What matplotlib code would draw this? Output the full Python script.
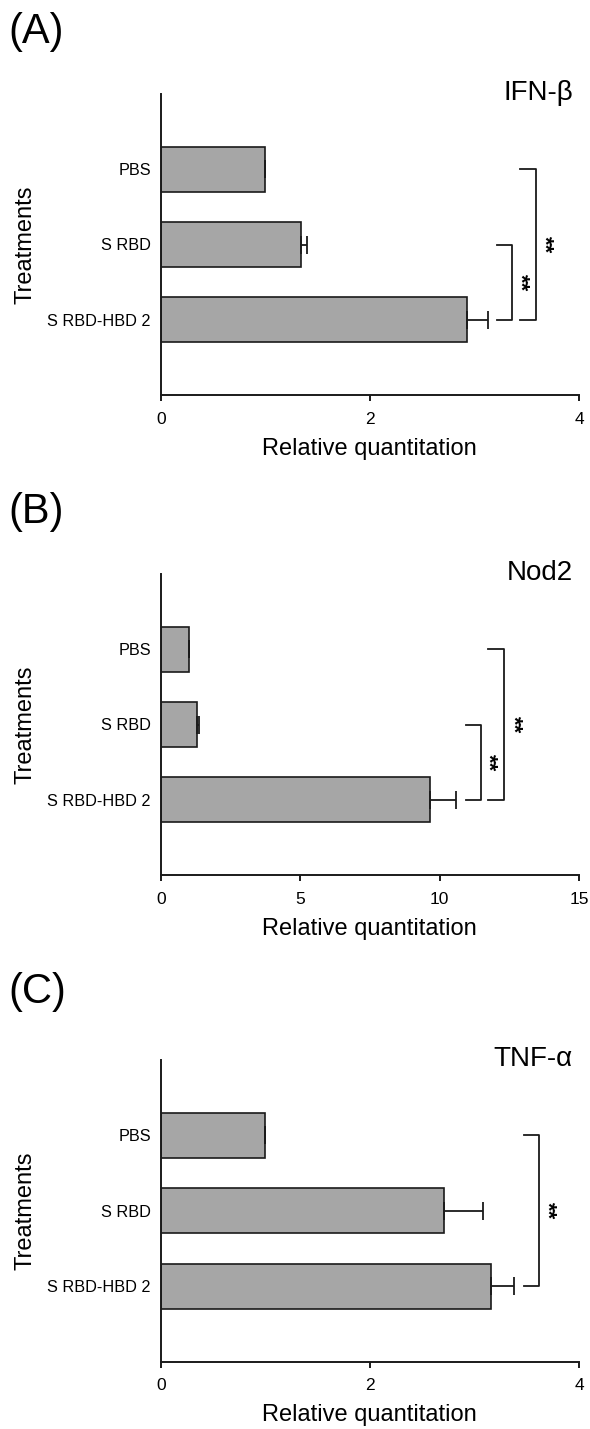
import matplotlib
matplotlib.use("Agg")
import matplotlib.pyplot as plt
from matplotlib.transforms import offset_copy

plt.rcParams['font.family'] = ['Liberation Sans', 'DejaVu Sans']

categories = ["PBS", "S RBD", "S RBD-HBD 2"]

# Panel A: IFN-beta
a_values = [1.00, 1.34, 2.93]
a_errors = [0.0, 0.06, 0.20]
# Panel B: Nod2
b_values = [1.00, 1.31, 9.64]
b_errors = [0.0, 0.07, 0.96]
# Panel C: TNF-alpha
c_values = [1.00, 2.71, 3.16]
c_errors = [0.0, 0.37, 0.22]

a_ticks = [0, 2, 4]
b_ticks = [0, 5, 10, 15]
c_ticks = [0, 2, 4]

titles = ["IFN-\u03b2", "Nod2", "TNF-\u03b1"]
panel_labels = ["(A)", "(B)", "(C)"]

# brackets: (cat_i, cat_j, x_start, x_vert, x_star)
a_brackets = [(1, 2, 3.22, 3.36, 3.49), (0, 2, 3.44, 3.59, 3.72)]
b_brackets = [(1, 2, 10.93, 11.48, 11.94), (0, 2, 11.75, 12.32, 12.83)]
c_brackets = [(0, 2, 3.47, 3.62, 3.75)]

panels = [
    (a_values, a_errors, a_ticks, a_brackets),
    (b_values, b_errors, b_ticks, b_brackets),
    (c_values, c_errors, c_ticks, c_brackets),
]

fig = plt.figure(figsize=(5.9, 14.29), dpi=100)

W, H = 590.0, 1429.0
ax_left, ax_right = 160.7, 579.0
ax_tops = [94.0, 574.0, 1060.0]
ax_bottoms = [395.0, 875.0, 1361.5]
label_ys = [32.0, 512.0, 992.0]

bar_color = "#a6a6a6"
edge_color = "#1a1a1a"

for k, (vals, errs, ticks, brackets) in enumerate(panels):
    top, bot = ax_tops[k], ax_bottoms[k]
    ax = fig.add_axes([ax_left / W, 1 - bot / H, (ax_right - ax_left) / W, (bot - top) / H])
    ypos = [2 - i for i in range(len(categories))]
    ax.barh(ypos, vals, height=0.6, color=bar_color, edgecolor=edge_color, linewidth=1.2, zorder=2)
    ax.errorbar(vals, ypos, xerr=[[0] * len(errs), errs], fmt='none', ecolor=edge_color,
                elinewidth=1.3, capsize=6.5, capthick=1.3, zorder=3)
    ax.set_xlim(ticks[0], ticks[-1])
    ax.set_ylim(-1, 3)
    ax.set_xticks(ticks)
    ax.set_xticklabels([str(t) for t in ticks], fontsize=12.5)
    ax.set_yticks(ypos)
    ax.set_yticklabels(categories, fontsize=11.7)
    ax.tick_params(axis='y', length=0, pad=7)
    ax.tick_params(axis='x', length=4.5, width=1.4, direction='out', pad=7.5, color=edge_color)
    for s in ['top', 'right']:
        ax.spines[s].set_visible(False)
    for s in ['left', 'bottom']:
        ax.spines[s].set_linewidth(1.4)
        ax.spines[s].set_color(edge_color)
    ax.set_xlabel("Relative quantitation", fontsize=17, labelpad=8)
    ax.set_ylabel("Treatments", fontsize=17, labelpad=8)

    star_tr = offset_copy(ax.transData, fig=fig, x=-6, y=0, units='dots')
    for (i, j, x0, x1, xs) in brackets:
        y_i, y_j = ypos[i], ypos[j]
        ax.plot([x0, x1, x1, x0], [y_i, y_i, y_j, y_j], color=edge_color, lw=1.3,
                clip_on=False, zorder=3)
        ax.text(xs, (y_i + y_j) / 2, "**", rotation=-90, ha='center', va='center',
                fontsize=16, fontweight='bold', clip_on=False, transform=star_tr)

    fig.text(573 / W, 1 - (top - 1) / H, titles[k], ha='right', va='center', fontsize=20)
    fig.text(8 / W, 1 - label_ys[k] / H, panel_labels[k], ha='left', va='center', fontsize=30)

fig.savefig("out.png", dpi=100)
